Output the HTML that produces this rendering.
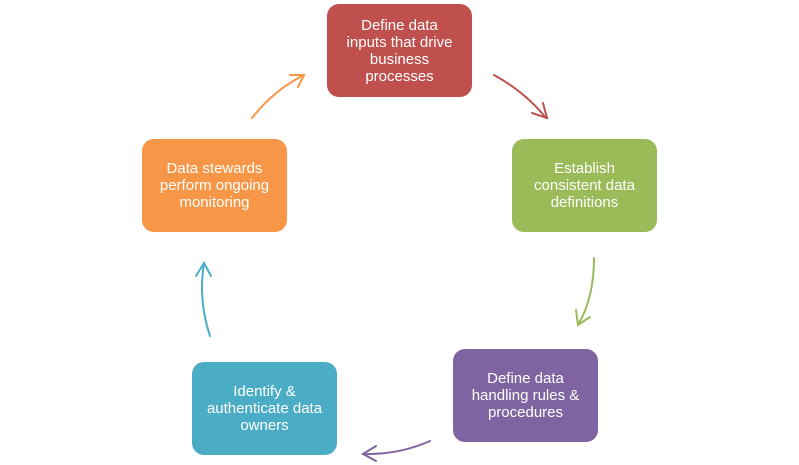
<!DOCTYPE html>
<html><head><meta charset="utf-8"><style>
body{margin:0;width:799px;height:465px;background:#fff;position:relative;overflow:hidden;font-family:"Liberation Sans",Arial,sans-serif}
.b{position:absolute;width:145px;height:93px;border-radius:12px;color:#fff;font-size:15px;line-height:17px;display:flex;align-items:center;justify-content:center;text-align:center;box-sizing:border-box;padding:0 6px}
svg{position:absolute;left:0;top:0}
</style></head><body>
<div class="b" style="left:327px;top:4px;background:#c0504d">Define data<br>inputs that drive<br>business<br>processes</div>
<div class="b" style="left:512px;top:139px;background:#9bbb59">Establish<br>consistent data<br>definitions</div>
<div class="b" style="left:453px;top:349px;background:#8064a2">Define data<br>handling rules &amp;<br>procedures</div>
<div class="b" style="left:192px;top:362px;background:#4bacc6">Identify &amp;<br>authenticate data<br>owners</div>
<div class="b" style="left:142px;top:139px;background:#f79646">Data stewards<br>perform ongoing<br>monitoring</div>
<svg width="799" height="465" fill="none" stroke-width="2" stroke-linecap="round">
<g stroke="#c0504d"><path d="M494 75 Q525 92 546 118"/><path d="M532 113 L547 118 L543 103"/></g>
<g stroke="#9bbb59"><path d="M594 258 Q594 298 578 325"/><path d="M576 310 L578 325 L590 317"/></g>
<g stroke="#8064a2"><path d="M430 441 Q398 455 363 454"/><path d="M376 446 L363 454 L376 461"/></g>
<g stroke="#4bacc6"><path d="M210 336 Q198 300 204 263"/><path d="M196 276 L204 263 L211 276"/></g>
<g stroke="#f79646"><path d="M252 118 Q274 90 304 75"/><path d="M290 75 L304 75 L298 87"/></g>
</svg>
</body></html>
